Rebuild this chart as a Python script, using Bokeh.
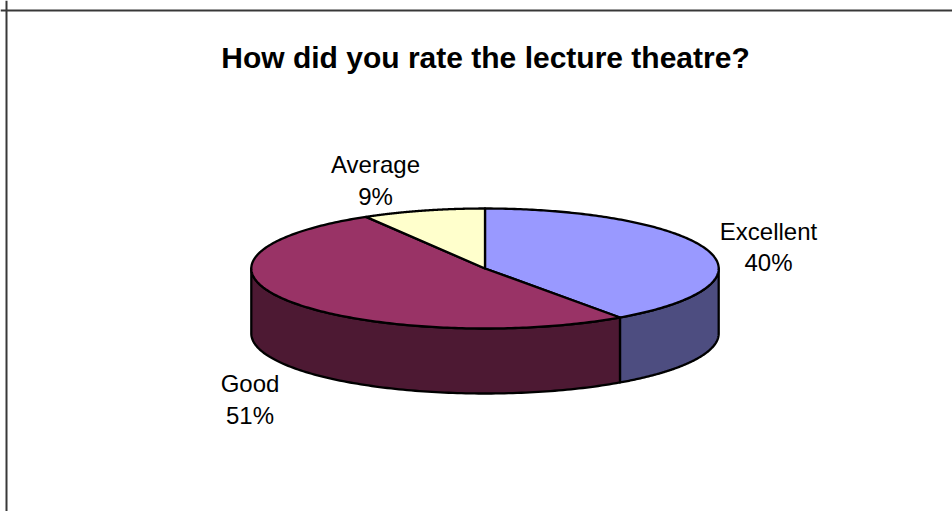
import numpy as np
from bokeh.core.properties import value
from bokeh.embed import file_html
from bokeh.models import Range1d, Span
from bokeh.plotting import figure
from bokeh.resources import INLINE

TITLE = "How did you rate the lecture theatre?"
CATEGORIES = ["Excellent", "Good", "Average"]
VALUES = [40.2, 51.3, 8.5]
PERCENT_LABELS = ["40%", "51%", "9%"]
TOP_COLORS = ["#9999FF", "#993366", "#FFFFCC"]
SIDE_COLORS = ["#4D4D80", "#4D1933", "#808066"]

# page-pixel geometry, in coordinates of the reference picture
CX, CY, RX, RY, DEPTH = 484.5, 268.0, 233.7, 60.0, 65.0

# label anchors: centre x, first baseline, second baseline
LABEL_X = [768, 249.5, 375]
LABEL_Y1 = [231, 383, 164]
LABEL_Y2 = [262, 415, 196]


def rim(a, drop=0.0):
    """Points on the rim; a is the angle in radians clockwise from the top."""
    return CX + RX * np.sin(a), CY - RY * np.cos(a) + drop


p = figure(
    width=952, height=511, output_backend="svg", toolbar_location=None,
    x_range=Range1d(0, 952), y_range=Range1d(511, 0),
    min_border=0, outline_line_color=None, background_fill_color="white",
    border_fill_color="white",
)
p.axis.visible = False
p.grid.visible = False

p.add_layout(Span(location=6, dimension="height", line_color="#383838", line_width=2))
p.add_layout(Span(location=10, dimension="width", line_color="#383838", line_width=2))

shares = np.array(VALUES) / sum(VALUES)
edges = np.concatenate([[0.0], np.cumsum(shares)]) * 2 * np.pi
front_lo, front_hi = np.pi / 2, 3 * np.pi / 2

for i in range(len(VALUES)):
    lo, hi = max(edges[i], front_lo), min(edges[i + 1], front_hi)
    if hi <= lo:
        continue
    a = np.linspace(lo, hi, 120)
    xt, yt = rim(a)
    xb, yb = rim(a[::-1], DEPTH)
    p.patch(np.r_[xt, xb], np.r_[yt, yb], fill_color=SIDE_COLORS[i],
            line_color="black", line_width=2.3, line_join="round")

for i in range(len(VALUES)):
    a = np.linspace(edges[i], edges[i + 1], 200)
    xt, yt = rim(a)
    p.patch(np.r_[CX, xt], np.r_[CY, yt], fill_color=TOP_COLORS[i],
            line_color="black", line_width=2.3, line_join="round")

font = value("Liberation Sans")
p.text([485], [57], text=[TITLE], text_font=font, text_font_size="30px",
       text_font_style="bold", text_align="center", text_baseline="alphabetic",
       text_color="black")
p.text(LABEL_X, LABEL_Y1, text=CATEGORIES, text_font=font, text_font_size="24px",
       text_align="center", text_baseline="alphabetic", text_color="black")
p.text(LABEL_X, LABEL_Y2, text=PERCENT_LABELS, text_font=font,
       text_font_size="24px", text_align="center", text_baseline="alphabetic",
       text_color="black")

open("out.html", "w").write(file_html(p, INLINE))
